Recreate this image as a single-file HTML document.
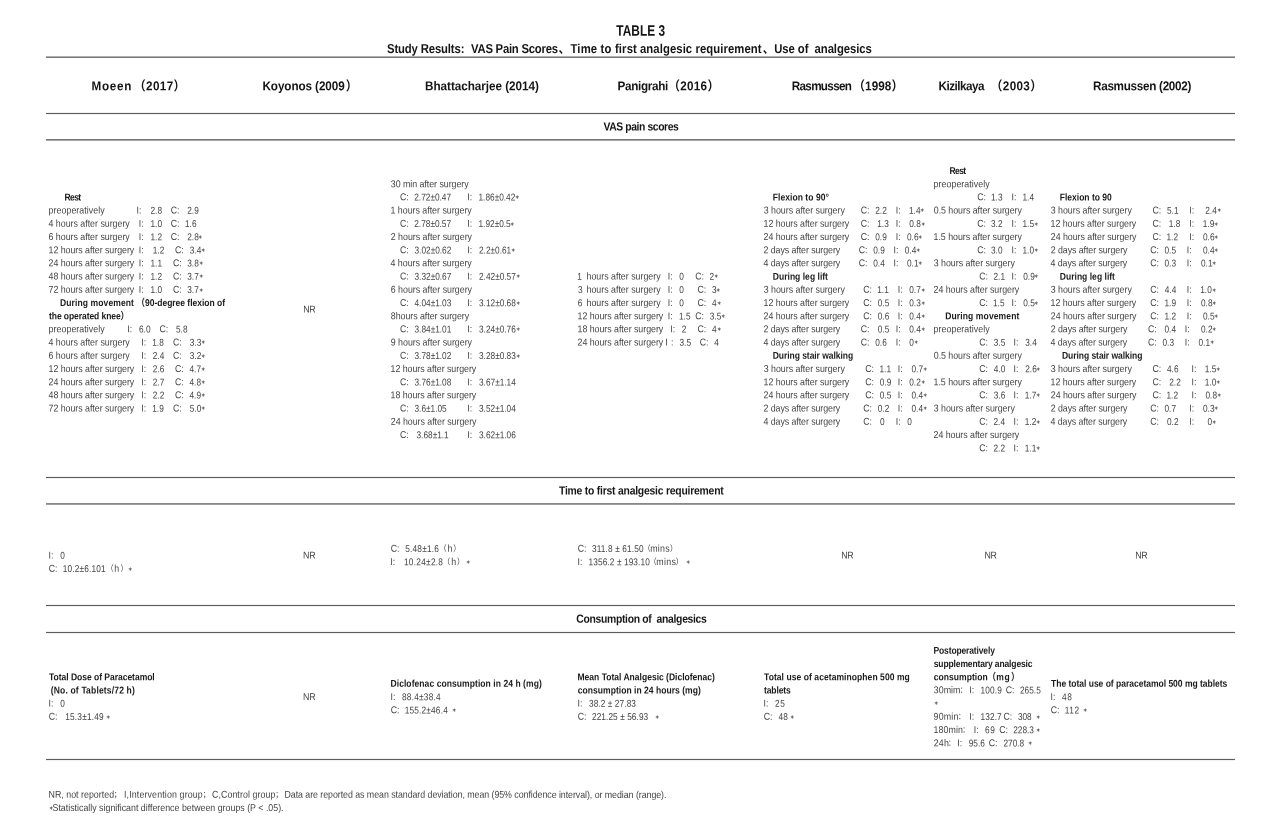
<!DOCTYPE html>
<html lang="en">
<head>
<meta charset="utf-8">
<title>TABLE 3</title>
<style>
html,body{margin:0;padding:0;background:#fff;}
body{width:1268px;height:824px;position:relative;overflow:hidden;font-family:"Liberation Sans","Noto Sans CJK SC",sans-serif;}
#pg{position:absolute;left:0;top:0;width:1268px;height:824px;}
.hl{position:absolute;left:46px;width:1189px;height:1px;}
.r,.rb,.hd,.sec,.sub,.ttl{position:absolute;left:0;width:1268px;height:16px;line-height:16px;white-space:pre;}
span,i{position:absolute;top:0;white-space:pre;line-height:16px;font-style:normal;}
.r{font-size:8.84px;color:#444;letter-spacing:-0.03px;}
.r span,.r i{transform:translate(var(--x,0px),var(--t,0px)) matrix(1,0.0005,0,1.1198,0,0);transform-origin:0 11.06px;}
.r .n{font-size:8.3px;letter-spacing:0.0px;transform:translate(var(--x,0px),calc(var(--t,0px) + 0.19px)) matrix(1,0.0005,0,1.1928,0,0);transform-origin:0 10.88px;}
.r .w{font-size:7.4px;transform:translate(var(--x,0px),calc(var(--t,0px) + 0.50px)) matrix(1,0.0005,0,1.1198,0,0);transform-origin:0 10.56px;}
.r i{color:#333;font-size:5.2px;letter-spacing:0;transform:translate(var(--x,0px),calc(var(--t,0px) + -0.04px)) matrix(1,0.0005,0,1.1198,0,0);transform-origin:0 9.80px;}
.rb{font-size:8.55px;font-weight:bold;color:#1a1a1a;}
.rb span,.rb i{transform:translate(var(--x,0px),var(--t,0px)) matrix(1,0.0005,0,1.1579,0,0);transform-origin:0 10.96px;}
.hd{font-size:11.72px;font-weight:bold;color:#151515;}
.hd span,.hd i{transform:translate(var(--x,0px),var(--t,0px)) matrix(1,0.0005,0,1.0922,0,0);transform-origin:0 12.06px;}
.sec{font-size:10.38px;font-weight:bold;color:#151515;}
.sec span,.sec i{transform:translate(var(--x,0px),var(--t,0px)) matrix(1,0.0005,0,1.1364,0,0);transform-origin:0 11.60px;}
.sub{font-size:11.31px;font-weight:bold;color:#151515;}
.sub span,.sub i{transform:translate(var(--x,0px),var(--t,0px)) matrix(1,0.0005,0,1.1403,0,0);transform-origin:0 11.92px;}
.ttl{font-size:11.9px;font-weight:bold;color:#151515;}
.ttl span,.ttl i{transform:translate(var(--x,0px),var(--t,0px)) matrix(1,0.0005,0,1.2853,0,0);transform-origin:0 12.12px;}
</style>
</head>
<body>
<div id="pg">
<div class="hl" style="top:56px;background:#b0b0b0"></div>
<div class="hl" style="top:57px;background:#7a7a7a"></div>
<div class="hl" style="top:139px;background:#787878"></div>
<div class="hl" style="top:140px;background:#a6a6a6"></div>
<div class="hl" style="top:503px;background:#888888"></div>
<div class="hl" style="top:504px;background:#9e9e9e"></div>
<div class="hl" style="top:112px;background:#f1f1f1"></div>
<div class="hl" style="top:113px;background:#5c5c5c"></div>
<div class="hl" style="top:114px;background:#f1f1f1"></div>
<div class="hl" style="top:476px;background:#f1f1f1"></div>
<div class="hl" style="top:477px;background:#5c5c5c"></div>
<div class="hl" style="top:478px;background:#f1f1f1"></div>
<div class="hl" style="top:604px;background:#f1f1f1"></div>
<div class="hl" style="top:605px;background:#5c5c5c"></div>
<div class="hl" style="top:606px;background:#f1f1f1"></div>
<div class="hl" style="top:631px;background:#f1f1f1"></div>
<div class="hl" style="top:632px;background:#5c5c5c"></div>
<div class="hl" style="top:633px;background:#f1f1f1"></div>
<div class="hl" style="top:758px;background:#f1f1f1"></div>
<div class="hl" style="top:759px;background:#5c5c5c"></div>
<div class="hl" style="top:760px;background:#f1f1f1"></div>
<div class="ttl" style="top:23px;--t:0.75px"><span style="left:616px;--x:0.25px;letter-spacing:0.03px">TABLE 3</span></div>
<div class="sub" style="top:41px"><span style="left:387px;letter-spacing:-0.13px">Study Results:</span><span style="left:471px;letter-spacing:-0.23px">VAS Pain Scores</span><span style="left:558px;--x:0.5px">、</span><span style="left:570px;--x:0.5px;letter-spacing:0.16px">Time to first</span><span style="left:640px;letter-spacing:0.08px">analgesic requirement</span><span style="left:762px;--x:0.75px">、</span><span style="left:774px;--x:0.25px;letter-spacing:-0.06px">Use of  analgesics</span></div>
<div class="hd" style="top:78px;--t:0.25px"><span style="left:91px;--x:0.5px;letter-spacing:0.68px">Moeen</span><span style="left:134px;letter-spacing:0.35px">（2017）</span><span style="left:262px;--x:0.5px;letter-spacing:-0.1px">Koyonos (2009</span><span style="left:345px;--x:0.75px">）</span><span style="left:425px;letter-spacing:-0.04px">Bhattacharjee (2014)</span><span style="left:617px;--x:0.5px;letter-spacing:-0.32px">Panigrahi</span><span style="left:668px;--x:0.25px;letter-spacing:0.27px">（2016）</span><span style="left:791px;--x:0.75px;letter-spacing:-0.7px">Rasmussen</span><span style="left:853px;--x:0.25px;letter-spacing:0.07px">（1998）</span><span style="left:938px;--x:0.5px;letter-spacing:-0.51px">Kizilkaya</span><span style="left:990px;--x:0.75px;letter-spacing:0.33px">（2003）</span><span style="left:1093px;letter-spacing:-0.3px">Rasmussen (2002)</span></div>
<div class="sec" style="top:119px;--t:0.5px"><span style="left:603px;--x:0.5px;letter-spacing:-0.41px">VAS pain scores</span></div>
<div class="rb" style="top:163px"><span style="left:949px;--x:0.5px;letter-spacing:-0.62px">Rest</span></div>
<div class="r" style="top:176px;--t:0.25px"><span style="left:390px;--x:0.75px">30 min after surgery</span><span style="left:933px;--x:0.5px;letter-spacing:0.06px">preoperatively</span></div>
<div class="rb" style="top:189px;--t:0.5px"><span style="left:64px;--x:0.5px;letter-spacing:-0.62px">Rest</span><span style="left:772px;--x:0.75px;letter-spacing:0.04px">Flexion to 90°</span><span style="left:1059px;--x:0.75px;letter-spacing:-0.02px">Flexion to 90</span></div>
<div class="r" style="top:189px;--t:0.25px"><span style="left:400px">C:</span><span class="n" style="left:414px;--x:0.25px">2.72±0.47</span><span style="left:467px;--x:0.25px">I:</span><span class="n" style="left:478px;--x:0.5px">1.86±0.42</span><i style="left:515px">∗</i><span style="left:977px;--x:0.25px">C:</span><span class="n" style="left:991px">1.3</span><span style="left:1011px;--x:0.5px">I:</span><span class="n" style="left:1022px;--x:0.5px">1.4</span></div>
<div class="r" style="top:202px;--t:0.5px"><span style="left:48px;--x:0.5px;letter-spacing:0.06px">preoperatively</span><span style="left:136px;--x:0.5px">I:</span><span class="n" style="left:150px;--x:0.5px">2.8</span><span style="left:170px;--x:0.75px">C:</span><span class="n" style="left:187px;--x:0.25px">2.9</span><span style="left:390px;--x:0.5px;letter-spacing:-0.01px">1 hours after surgery</span><span style="left:763px;--x:0.75px;letter-spacing:-0.02px">3 hours after surgery</span><span style="left:860px;--x:0.75px">C:</span><span class="n" style="left:875px;--x:0.25px">2.2</span><span style="left:895px;--x:0.75px">I:</span><span class="n" style="left:909px">1.4</span><i style="left:920px;--x:0.25px">∗</i><span style="left:933px;--x:0.75px;letter-spacing:-0.03px">0.5 hours after surgery</span><span style="left:1050px;--x:0.75px;letter-spacing:-0.02px">3 hours after surgery</span><span style="left:1152px;--x:0.5px">C:</span><span class="n" style="left:1167px">5.1</span><span style="left:1189px;--x:0.25px">I:</span><span class="n" style="left:1205px;--x:0.25px">2.4</span><i style="left:1216px;--x:0.5px">∗</i></div>
<div class="r" style="top:215px;--t:0.75px"><span style="left:48px;--x:0.5px;letter-spacing:-0.01px">4 hours after surgery</span><span style="left:138px;--x:0.75px">I:</span><span class="n" style="left:150px;--x:0.5px">1.0</span><span style="left:170px;--x:0.75px">C:</span><span class="n" style="left:185px">1.6</span><span style="left:400px">C:</span><span class="n" style="left:414px;--x:0.25px">2.78±0.57</span><span style="left:467px;--x:0.25px">I:</span><span class="n" style="left:478px;--x:0.5px">1.92±0.5</span><i style="left:510px;--x:0.25px">∗</i><span style="left:763px;--x:0.5px;letter-spacing:-0.03px">12 hours after surgery</span><span style="left:860px;--x:0.75px">C:</span><span class="n" style="left:877px;--x:0.25px">1.3</span><span style="left:895px;--x:0.75px">I:</span><span class="n" style="left:909px;--x:0.25px">0.8</span><i style="left:920px;--x:0.5px">∗</i><span style="left:977px;--x:0.25px">C:</span><span class="n" style="left:991px">3.2</span><span style="left:1011px;--x:0.5px">I:</span><span class="n" style="left:1022px;--x:0.5px">1.5</span><i style="left:1033px;--x:0.75px">∗</i><span style="left:1050px;--x:0.5px;letter-spacing:-0.03px">12 hours after surgery</span><span style="left:1152px;--x:0.5px">C:</span><span class="n" style="left:1168px;--x:0.75px">1.8</span><span style="left:1189px;--x:0.25px">I:</span><span class="n" style="left:1202px;--x:0.75px">1.9</span><i style="left:1213px;--x:0.75px">∗</i></div>
<div class="r" style="top:229px"><span style="left:48px;--x:0.5px;letter-spacing:-0.01px">6 hours after surgery</span><span style="left:138px;--x:0.75px">I:</span><span class="n" style="left:150px;--x:0.5px">1.2</span><span style="left:170px;--x:0.75px">C:</span><span class="n" style="left:187px;--x:0.25px">2.8</span><i style="left:198px;--x:0.25px">∗</i><span style="left:390px;--x:0.75px;letter-spacing:-0.01px">2 hours after surgery</span><span style="left:763px;--x:0.5px">24 hours after surgery</span><span style="left:860px;--x:0.75px">C:</span><span class="n" style="left:875px;--x:0.25px">0.9</span><span style="left:895px;--x:0.75px">I:</span><span class="n" style="left:907px">0.6</span><i style="left:918px;--x:0.25px">∗</i><span style="left:933px;--x:0.5px;letter-spacing:-0.02px">1.5 hours after surgery</span><span style="left:1050px;--x:0.75px">24 hours after surgery</span><span style="left:1152px;--x:0.5px">C:</span><span class="n" style="left:1166px;--x:0.5px">1.2</span><span style="left:1189px;--x:0.25px">I:</span><span class="n" style="left:1203px">0.6</span><i style="left:1214px">∗</i></div>
<div class="r" style="top:242px;--t:0.25px"><span style="left:48px;--x:0.5px;letter-spacing:-0.03px">12 hours after surgery</span><span style="left:138px;--x:0.75px">I:</span><span class="n" style="left:152px;--x:0.75px">1.2</span><span style="left:175px">C:</span><span class="n" style="left:189px;--x:0.75px">3.4</span><i style="left:201px">∗</i><span style="left:400px">C:</span><span class="n" style="left:414px;--x:0.5px">3.02±0.62</span><span style="left:467px;--x:0.25px">I:</span><span class="n" style="left:479px">2.2±0.61</span><i style="left:510px;--x:0.75px">∗</i><span style="left:763px;--x:0.5px;letter-spacing:-0.07px">2 days after surgery</span><span style="left:858px;--x:0.75px">C:</span><span class="n" style="left:873px;--x:0.25px">0.9</span><span style="left:893px;--x:0.5px">I:</span><span class="n" style="left:904px;--x:0.75px">0.4</span><i style="left:916px">∗</i><span style="left:977px;--x:0.25px">C:</span><span class="n" style="left:991px">3.0</span><span style="left:1011px;--x:0.5px">I:</span><span class="n" style="left:1022px;--x:0.5px">1.0</span><i style="left:1033px;--x:0.75px">∗</i><span style="left:1050px;--x:0.75px;letter-spacing:-0.07px">2 days after surgery</span><span style="left:1150px;--x:0.25px">C:</span><span class="n" style="left:1164px;--x:0.5px">0.5</span><span style="left:1186px;--x:0.75px">I:</span><span class="n" style="left:1203px">0.4</span><i style="left:1214px;--x:0.25px">∗</i></div>
<div class="r" style="top:255px;--t:0.25px"><span style="left:48px;--x:0.5px">24 hours after surgery</span><span style="left:138px;--x:0.75px">I:</span><span class="n" style="left:150px;--x:0.5px">1.1</span><span style="left:173px">C:</span><span class="n" style="left:187px;--x:0.25px">3.8</span><i style="left:198px;--x:0.5px">∗</i><span style="left:390px;--x:0.5px;letter-spacing:-0.01px">4 hours after surgery</span><span style="left:763px;--x:0.5px;letter-spacing:-0.07px">4 days after surgery</span><span style="left:858px;--x:0.75px">C:</span><span class="n" style="left:873px;--x:0.25px">0.4</span><span style="left:893px;--x:0.5px">I:</span><span class="n" style="left:907px">0.1</span><i style="left:918px;--x:0.25px">∗</i><span style="left:933px;--x:0.75px;letter-spacing:-0.02px">3 hours after surgery</span><span style="left:1050px;--x:0.5px;letter-spacing:-0.07px">4 days after surgery</span><span style="left:1150px;--x:0.25px">C:</span><span class="n" style="left:1164px;--x:0.5px">0.3</span><span style="left:1186px;--x:0.75px">I:</span><span class="n" style="left:1201px">0.1</span><i style="left:1212px">∗</i></div>
<div class="r" style="top:268px;--t:0.5px"><span style="left:48px;--x:0.5px;letter-spacing:-0.03px">48 hours after surgery</span><span style="left:138px;--x:0.75px">I:</span><span class="n" style="left:150px;--x:0.5px">1.2</span><span style="left:173px">C:</span><span class="n" style="left:187px;--x:0.25px">3.7</span><i style="left:198px;--x:0.5px">∗</i><span style="left:400px">C:</span><span class="n" style="left:414px;--x:0.5px">3.32±0.67</span><span style="left:467px;--x:0.25px">I:</span><span class="n" style="left:479px">2.42±0.57</span><i style="left:515px;--x:0.5px">∗</i><span class="n" style="left:577px;--x:0.25px">1</span><span style="left:586px;--x:0.5px;letter-spacing:0px">hours after surgery</span><span style="left:667px;--x:0.75px">I:</span><span class="n" style="left:679px;--x:0.25px">0</span><span style="left:695px;--x:0.25px">C:</span><span class="n" style="left:709px;--x:0.5px">2</span><i style="left:713px;--x:0.75px">∗</i><span style="left:979px;--x:0.25px">C:</span><span class="n" style="left:993px;--x:0.5px">2.1</span><span style="left:1011px;--x:0.5px">I:</span><span class="n" style="left:1023px;--x:0.25px">0.9</span><i style="left:1034px;--x:0.25px">∗</i></div>
<div class="rb" style="top:268px;--t:0.75px"><span style="left:772px;--x:0.75px;letter-spacing:0.01px">During leg lift</span><span style="left:1059px;--x:0.75px;letter-spacing:0.01px">During leg lift</span></div>
<div class="r" style="top:281px;--t:0.75px"><span style="left:48px;--x:0.5px">72 hours after surgery</span><span style="left:138px;--x:0.75px">I:</span><span class="n" style="left:150px;--x:0.5px">1.0</span><span style="left:173px">C:</span><span class="n" style="left:187px;--x:0.25px">3.7</span><i style="left:198px;--x:0.5px">∗</i><span style="left:390px;--x:0.75px;letter-spacing:-0.01px">6 hours after surgery</span><span class="n" style="left:578px">3</span><span style="left:586px;--x:0.5px;letter-spacing:0px">hours after surgery</span><span style="left:667px;--x:0.75px">I:</span><span class="n" style="left:679px;--x:0.25px">0</span><span style="left:697px;--x:0.5px">C:</span><span class="n" style="left:712px">3</span><i style="left:716px;--x:0.25px">∗</i><span style="left:763px;--x:0.75px;letter-spacing:-0.02px">3 hours after surgery</span><span style="left:863px;--x:0.25px">C:</span><span class="n" style="left:877px;--x:0.25px">1.1</span><span style="left:897px;--x:0.75px">I:</span><span class="n" style="left:909px;--x:0.25px">0.7</span><i style="left:920px;--x:0.5px">∗</i><span style="left:933px;--x:0.5px">24 hours after surgery</span><span style="left:1050px;--x:0.75px;letter-spacing:-0.02px">3 hours after surgery</span><span style="left:1150px;--x:0.25px">C:</span><span class="n" style="left:1164px;--x:0.75px">4.4</span><span style="left:1186px;--x:0.75px">I:</span><span class="n" style="left:1200px;--x:0.25px">1.0</span><i style="left:1211px;--x:0.5px">∗</i></div>
<div class="rb" style="top:295px"><span style="left:60px;letter-spacing:0.09px">During movement</span><span style="left:136px;--x:0.5px;letter-spacing:-0.04px">（90-degree flexion of</span></div>
<div class="r" style="top:295px"><span style="left:400px">C:</span><span class="n" style="left:414px;--x:0.5px">4.04±1.03</span><span style="left:467px;--x:0.25px">I:</span><span class="n" style="left:479px">3.12±0.68</span><i style="left:515px;--x:0.5px">∗</i><span class="n" style="left:577px;--x:0.75px">6</span><span style="left:586px;--x:0.5px;letter-spacing:0px">hours after surgery</span><span style="left:667px;--x:0.75px">I:</span><span class="n" style="left:679px;--x:0.25px">0</span><span style="left:697px;--x:0.5px">C:</span><span class="n" style="left:712px">4</span><i style="left:716px;--x:0.5px">∗</i><span style="left:763px;--x:0.5px;letter-spacing:-0.03px">12 hours after surgery</span><span style="left:863px;--x:0.25px">C:</span><span class="n" style="left:877px;--x:0.75px">0.5</span><span style="left:897px;--x:0.75px">I:</span><span class="n" style="left:909px;--x:0.25px">0.3</span><i style="left:920px;--x:0.5px">∗</i><span style="left:979px;--x:0.25px">C:</span><span class="n" style="left:993px">1.5</span><span style="left:1011px;--x:0.5px">I:</span><span class="n" style="left:1023px;--x:0.25px">0.5</span><i style="left:1034px;--x:0.25px">∗</i><span style="left:1050px;--x:0.5px;letter-spacing:-0.03px">12 hours after surgery</span><span style="left:1150px;--x:0.25px">C:</span><span class="n" style="left:1164px;--x:0.5px">1.9</span><span style="left:1186px;--x:0.75px">I:</span><span class="n" style="left:1201px">0.8</span><i style="left:1212px">∗</i></div>
<div class="r" style="top:301px;--t:0.5px"><span style="left:303px;--x:0.25px;letter-spacing:-0.37px">NR</span></div>
<div class="rb" style="top:308px;--t:0.25px"><span style="left:49px;letter-spacing:-0.09px">the operated knee）</span><span style="left:945px;--x:0.25px;letter-spacing:0.1px">During movement</span></div>
<div class="r" style="top:308px;--t:0.25px"><span style="left:390px;--x:0.75px">8hours after surgery</span><span style="left:577px;--x:0.5px;letter-spacing:-0.03px">12 hours after surgery</span><span style="left:667px;--x:0.75px">I:</span><span class="n" style="left:679px">1.5</span><span style="left:695px;--x:0.25px">C:</span><span class="n" style="left:709px;--x:0.75px">3.5</span><i style="left:720px;--x:0.75px">∗</i><span style="left:763px;--x:0.5px">24 hours after surgery</span><span style="left:863px;--x:0.25px">C:</span><span class="n" style="left:877px;--x:0.75px">0.6</span><span style="left:897px;--x:0.75px">I:</span><span class="n" style="left:909px;--x:0.25px">0.4</span><i style="left:920px;--x:0.5px">∗</i><span style="left:1050px;--x:0.75px">24 hours after surgery</span><span style="left:1150px;--x:0.25px">C:</span><span class="n" style="left:1164px;--x:0.5px">1.2</span><span style="left:1186px;--x:0.75px">I:</span><span class="n" style="left:1203px">0.5</span><i style="left:1214px">∗</i></div>
<div class="r" style="top:321px;--t:0.25px"><span style="left:48px;--x:0.5px;letter-spacing:0.06px">preoperatively</span><span style="left:127px;--x:0.25px">I:</span><span class="n" style="left:139px">6.0</span><span style="left:159px;--x:0.5px">C:</span><span class="n" style="left:176px">5.8</span><span style="left:400px">C:</span><span class="n" style="left:414px;--x:0.5px">3.84±1.01</span><span style="left:467px;--x:0.25px">I:</span><span class="n" style="left:479px">3.24±0.76</span><i style="left:515px;--x:0.5px">∗</i><span style="left:577px;--x:0.5px;letter-spacing:-0.03px">18 hours after surgery</span><span style="left:670px;--x:0.25px">I:</span><span class="n" style="left:681px;--x:0.75px">2</span><span style="left:697px;--x:0.5px">C:</span><span class="n" style="left:712px">4</span><i style="left:716px;--x:0.5px">∗</i><span style="left:763px;--x:0.5px;letter-spacing:-0.07px">2 days after surgery</span><span style="left:860px;--x:0.75px">C:</span><span class="n" style="left:877px;--x:0.75px">0.5</span><span style="left:895px;--x:0.75px">I:</span><span class="n" style="left:909px;--x:0.25px">0.4</span><i style="left:920px;--x:0.5px">∗</i><span style="left:933px;--x:0.5px;letter-spacing:0.06px">preoperatively</span><span style="left:1050px;--x:0.75px;letter-spacing:-0.07px">2 days after surgery</span><span style="left:1148px">C:</span><span class="n" style="left:1164px;--x:0.5px">0.4</span><span style="left:1184px;--x:0.75px">I:</span><span class="n" style="left:1201px">0.2</span><i style="left:1212px">∗</i></div>
<div class="r" style="top:334px;--t:0.5px"><span style="left:48px;--x:0.5px;letter-spacing:-0.01px">4 hours after surgery</span><span style="left:141px;--x:0.25px">I:</span><span class="n" style="left:152px;--x:0.25px">1.8</span><span style="left:173px">C:</span><span class="n" style="left:189px;--x:0.75px">3.3</span><i style="left:201px">∗</i><span style="left:390px;--x:0.75px;letter-spacing:-0.01px">9 hours after surgery</span><span style="left:577px;--x:0.5px">24 hours after surgery</span><span style="left:665px;--x:0.25px">I</span><span style="left:671px">:</span><span class="n" style="left:679px;--x:0.5px">3.5</span><span style="left:699px;--x:0.75px">C:</span><span class="n" style="left:714px;--x:0.25px">4</span><span style="left:763px;--x:0.5px;letter-spacing:-0.07px">4 days after surgery</span><span style="left:860px;--x:0.75px">C:</span><span class="n" style="left:875px;--x:0.25px">0.6</span><span style="left:895px;--x:0.75px">I:</span><span class="n" style="left:909px;--x:0.25px">0</span><i style="left:913px;--x:0.75px">∗</i><span style="left:979px;--x:0.25px">C:</span><span class="n" style="left:993px;--x:0.75px">3.5</span><span style="left:1013px;--x:0.5px">I:</span><span class="n" style="left:1025px;--x:0.25px">3.4</span><span style="left:1050px;--x:0.5px;letter-spacing:-0.07px">4 days after surgery</span><span style="left:1148px">C:</span><span class="n" style="left:1162px;--x:0.5px">0.3</span><span style="left:1184px;--x:0.75px">I:</span><span class="n" style="left:1198px;--x:0.5px">0.1</span><i style="left:1209px;--x:0.75px">∗</i></div>
<div class="r" style="top:347px;--t:0.75px"><span style="left:48px;--x:0.5px;letter-spacing:-0.01px">6 hours after surgery</span><span style="left:141px;--x:0.25px">I:</span><span class="n" style="left:152px;--x:0.75px">2.4</span><span style="left:173px">C:</span><span class="n" style="left:189px;--x:0.75px">3.2</span><i style="left:201px">∗</i><span style="left:400px">C:</span><span class="n" style="left:414px;--x:0.5px">3.78±1.02</span><span style="left:467px;--x:0.25px">I:</span><span class="n" style="left:479px">3.28±0.83</span><i style="left:515px;--x:0.5px">∗</i><span style="left:933px;--x:0.75px;letter-spacing:-0.03px">0.5 hours after surgery</span></div>
<div class="rb" style="top:347px;--t:0.75px"><span style="left:772px;--x:0.75px;letter-spacing:-0.07px">During stair walking</span><span style="left:1062px;letter-spacing:-0.07px">During stair walking</span></div>
<div class="r" style="top:361px"><span style="left:48px;--x:0.5px;letter-spacing:-0.03px">12 hours after surgery</span><span style="left:141px;--x:0.25px">I:</span><span class="n" style="left:152px;--x:0.75px">2.6</span><span style="left:175px">C:</span><span class="n" style="left:189px;--x:0.5px">4.7</span><i style="left:200px;--x:0.75px">∗</i><span style="left:390px;--x:0.5px;letter-spacing:-0.03px">12 hours after surgery</span><span style="left:763px;--x:0.75px;letter-spacing:-0.02px">3 hours after surgery</span><span style="left:865px;--x:0.25px">C:</span><span class="n" style="left:879px;--x:0.5px">1.1</span><span style="left:897px;--x:0.75px">I:</span><span class="n" style="left:911px;--x:0.5px">0.7</span><i style="left:922px;--x:0.5px">∗</i><span style="left:979px;--x:0.25px">C:</span><span class="n" style="left:993px;--x:0.75px">4.0</span><span style="left:1013px;--x:0.5px">I:</span><span class="n" style="left:1025px;--x:0.25px">2.6</span><i style="left:1036px;--x:0.25px">∗</i><span style="left:1050px;--x:0.75px;letter-spacing:-0.02px">3 hours after surgery</span><span style="left:1152px;--x:0.5px">C:</span><span class="n" style="left:1167px">4.6</span><span style="left:1191px;--x:0.5px">I:</span><span class="n" style="left:1204px;--x:0.75px">1.5</span><i style="left:1216px">∗</i></div>
<div class="r" style="top:374px;--t:0.25px"><span style="left:48px;--x:0.5px">24 hours after surgery</span><span style="left:141px;--x:0.25px">I:</span><span class="n" style="left:152px;--x:0.75px">2.7</span><span style="left:175px">C:</span><span class="n" style="left:189px;--x:0.5px">4.8</span><i style="left:200px;--x:0.75px">∗</i><span style="left:400px">C:</span><span class="n" style="left:414px;--x:0.5px">3.76±1.08</span><span style="left:467px;--x:0.25px">I:</span><span class="n" style="left:479px">3.67±1.14</span><span style="left:763px;--x:0.5px;letter-spacing:-0.03px">12 hours after surgery</span><span style="left:865px;--x:0.25px">C:</span><span class="n" style="left:879px;--x:0.75px">0.9</span><span style="left:897px;--x:0.75px">I:</span><span class="n" style="left:909px;--x:0.25px">0.2</span><i style="left:920px;--x:0.5px">∗</i><span style="left:933px;--x:0.5px;letter-spacing:-0.02px">1.5 hours after surgery</span><span style="left:1050px;--x:0.5px;letter-spacing:-0.03px">12 hours after surgery</span><span style="left:1152px;--x:0.5px">C:</span><span class="n" style="left:1169px;--x:0.25px">2.2</span><span style="left:1191px;--x:0.5px">I:</span><span class="n" style="left:1204px;--x:0.75px">1.0</span><i style="left:1216px">∗</i></div>
<div class="r" style="top:387px;--t:0.25px"><span style="left:48px;--x:0.5px;letter-spacing:-0.03px">48 hours after surgery</span><span style="left:141px;--x:0.25px">I:</span><span class="n" style="left:152px;--x:0.75px">2.2</span><span style="left:175px">C:</span><span class="n" style="left:189px;--x:0.5px">4.9</span><i style="left:200px;--x:0.75px">∗</i><span style="left:390px;--x:0.5px;letter-spacing:-0.03px">18 hours after surgery</span><span style="left:763px;--x:0.5px">24 hours after surgery</span><span style="left:865px;--x:0.25px">C:</span><span class="n" style="left:879px;--x:0.75px">0.5</span><span style="left:897px;--x:0.75px">I:</span><span class="n" style="left:911px;--x:0.5px">0.4</span><i style="left:922px;--x:0.75px">∗</i><span style="left:979px;--x:0.25px">C:</span><span class="n" style="left:993px;--x:0.75px">3.6</span><span style="left:1013px;--x:0.5px">I:</span><span class="n" style="left:1024px;--x:0.75px">1.7</span><i style="left:1035px;--x:0.75px">∗</i><span style="left:1050px;--x:0.75px">24 hours after surgery</span><span style="left:1152px;--x:0.5px">C:</span><span class="n" style="left:1166px;--x:0.5px">1.2</span><span style="left:1191px;--x:0.5px">I:</span><span class="n" style="left:1205px;--x:0.5px">0.8</span><i style="left:1216px;--x:0.5px">∗</i></div>
<div class="r" style="top:400px;--t:0.5px"><span style="left:48px;--x:0.5px">72 hours after surgery</span><span style="left:141px;--x:0.25px">I:</span><span class="n" style="left:152px;--x:0.25px">1.9</span><span style="left:173px">C:</span><span class="n" style="left:189px;--x:0.75px">5.0</span><i style="left:201px">∗</i><span style="left:400px">C:</span><span class="n" style="left:414px;--x:0.5px">3.6±1.05</span><span style="left:467px;--x:0.25px">I:</span><span class="n" style="left:479px">3.52±1.04</span><span style="left:763px;--x:0.5px;letter-spacing:-0.07px">2 days after surgery</span><span style="left:863px;--x:0.25px">C:</span><span class="n" style="left:877px;--x:0.75px">0.2</span><span style="left:897px;--x:0.75px">I:</span><span class="n" style="left:911px;--x:0.5px">0.4</span><i style="left:922px;--x:0.75px">∗</i><span style="left:933px;--x:0.75px;letter-spacing:-0.02px">3 hours after surgery</span><span style="left:1050px;--x:0.75px;letter-spacing:-0.07px">2 days after surgery</span><span style="left:1150px;--x:0.25px">C:</span><span class="n" style="left:1164px;--x:0.5px">0.7</span><span style="left:1189px;--x:0.25px">I:</span><span class="n" style="left:1203px">0.3</span><i style="left:1214px">∗</i></div>
<div class="r" style="top:413px;--t:0.75px"><span style="left:390px;--x:0.75px">24 hours after surgery</span><span style="left:763px;--x:0.5px;letter-spacing:-0.07px">4 days after surgery</span><span style="left:863px;--x:0.25px">C:</span><span class="n" style="left:880px">0</span><span style="left:895px;--x:0.75px">I:</span><span class="n" style="left:907px;--x:0.25px">0</span><span style="left:979px;--x:0.25px">C:</span><span class="n" style="left:993px;--x:0.5px">2.4</span><span style="left:1013px;--x:0.5px">I:</span><span class="n" style="left:1024px;--x:0.75px">1.2</span><i style="left:1035px;--x:0.75px">∗</i><span style="left:1050px;--x:0.5px;letter-spacing:-0.07px">4 days after surgery</span><span style="left:1150px;--x:0.25px">C:</span><span class="n" style="left:1167px">0.2</span><span style="left:1189px;--x:0.25px">I:</span><span class="n" style="left:1207px;--x:0.5px">0</span><i style="left:1212px">∗</i></div>
<div class="r" style="top:427px"><span style="left:400px">C:</span><span class="n" style="left:416px;--x:0.5px">3.68±1.1</span><span style="left:467px;--x:0.25px">I:</span><span class="n" style="left:479px">3.62±1.06</span><span style="left:933px;--x:0.5px">24 hours after surgery</span></div>
<div class="r" style="top:440px;--t:0.25px"><span style="left:979px;--x:0.25px">C:</span><span class="n" style="left:993px;--x:0.5px">2.2</span><span style="left:1013px;--x:0.5px">I:</span><span class="n" style="left:1024px;--x:0.75px">1.1</span><i style="left:1035px;--x:0.75px">∗</i></div>
<div class="sec" style="top:483px;--t:0.5px"><span style="left:559px;letter-spacing:-0.22px">Time to first analgesic requirement</span></div>
<div class="r" style="top:540px;--t:0.75px"><span style="left:390px;--x:0.75px">C:</span><span class="n" style="left:405px;--x:0.25px;letter-spacing:0.19px">5.48±1.6</span><span class="w" style="left:439px;--x:0.25px">（</span><span style="left:447px;--x:0.5px">h</span><span class="w" style="left:453px;--x:0.25px">）</span><span style="left:577px;--x:0.75px">C:</span><span class="n" style="left:592px;letter-spacing:0.13px">311.8 ± 61.50</span><span class="w" style="left:643px;--x:0.25px">（</span><span style="left:650px;--x:0.25px;letter-spacing:0.25px">mins</span><span class="w" style="left:670px">）</span></div>
<div class="r" style="top:547px;--t:0.5px"><span style="left:48px;--x:0.5px">I:</span><span class="n" style="left:60px;--x:0.25px">0</span><span style="left:303px;letter-spacing:-0.07px">NR</span><span style="left:841px;--x:0.25px;letter-spacing:-0.47px">NR</span><span style="left:984px;--x:0.5px;letter-spacing:-0.47px">NR</span><span style="left:1135px;--x:0.25px;letter-spacing:-0.37px">NR</span></div>
<div class="r" style="top:554px"><span style="left:390px;--x:0.25px">I:</span><span class="n" style="left:404px;letter-spacing:0.26px">10.24±2.8</span><span class="w" style="left:442px;--x:0.75px">（</span><span style="left:451px;--x:0.25px">h</span><span class="w" style="left:457px">）</span><i style="left:465px;--x:0.5px">∗</i><span style="left:577px;--x:0.5px">I:</span><span class="n" style="left:588px;--x:0.5px;letter-spacing:0.1px">1356.2 ± 193.10</span><span class="w" style="left:649px;--x:0.25px">（</span><span style="left:656px;--x:0.25px;letter-spacing:0.32px">mins</span><span class="w" style="left:675px;--x:0.75px">）</span><i style="left:685px;--x:0.5px">∗</i></div>
<div class="r" style="top:560px;--t:0.75px"><span style="left:48px;--x:0.75px">C:</span><span class="n" style="left:62px;--x:0.75px;letter-spacing:0.15px">10.2±6.101</span><span class="w" style="left:106px;--x:0.25px">（</span><span style="left:114px;--x:0.25px">h</span><span class="w" style="left:120px;--x:0.5px">）</span><i style="left:128px;--x:0.25px">∗</i></div>
<div class="sec" style="top:611px;--t:0.75px"><span style="left:576px;--x:0.25px;letter-spacing:-0.31px">Consumption of  analgesics</span></div>
<div class="rb" style="top:642px;--t:0.75px"><span style="left:933px;--x:0.5px;letter-spacing:-0.16px">Postoperatively</span></div>
<div class="rb" style="top:656px"><span style="left:933px;--x:0.75px;letter-spacing:-0.15px">supplementary analgesic</span></div>
<div class="rb" style="top:669px;--t:0.25px"><span style="left:49px;letter-spacing:-0.04px">Total Dose of Paracetamol</span><span style="left:577px;--x:0.5px;letter-spacing:-0.01px">Mean Total Analgesic (Diclofenac)</span><span style="left:764px;letter-spacing:0.05px">Total use of acetaminophen 500 mg</span><span style="left:933px;--x:0.75px;letter-spacing:0.02px">consumption</span><span style="left:987px;--x:0.5px">（</span><span style="left:996px;--x:0.25px;letter-spacing:0.56px">mg</span><span style="left:1011px">）</span></div>
<div class="rb" style="top:675px;--t:0.75px"><span style="left:390px;--x:0.5px;letter-spacing:0.05px">Diclofenac consumption in 24 h (mg)</span><span style="left:1051px;letter-spacing:-0.03px">The total use of paracetamol 500 mg tablets</span></div>
<div class="rb" style="top:682px;--t:0.5px"><span style="left:50px;--x:0.75px;letter-spacing:0.15px">(No. of Tablets/72 h)</span><span style="left:577px;--x:0.75px;letter-spacing:0.02px">consumption in 24 hours (mg)</span><span style="left:764px;letter-spacing:-0.12px">tablets</span></div>
<div class="r" style="top:682px;--t:0.25px"><span style="left:933px;--x:0.75px;letter-spacing:0.05px">30mim</span><span class="w" style="left:959px;--x:0.75px">：</span><span style="left:969px;--x:0.25px">I:</span><span class="n" style="left:980px;--x:0.5px;letter-spacing:0.15px">100.9</span><span style="left:1005px;--x:0.75px">C:</span><span class="n" style="left:1020px;letter-spacing:0.01px">265.5</span></div>
<div class="r" style="top:689px"><span style="left:303px;letter-spacing:-0.07px">NR</span><span style="left:390px;--x:0.5px">I:</span><span class="n" style="left:402px;letter-spacing:0.23px">88.4±38.4</span><span style="left:1050px;--x:0.5px">I:</span><span class="n" style="left:1062px;letter-spacing:0.73px">48</span></div>
<div class="r" style="top:695px;--t:0.5px"><span style="left:48px;--x:0.5px">I:</span><span class="n" style="left:60px;--x:0.25px">0</span><span style="left:577px;--x:0.5px">I:</span><span class="n" style="left:589px;letter-spacing:0.08px">38.2 ± 27.83</span><span style="left:763px;--x:0.5px">I:</span><span class="n" style="left:775px;letter-spacing:0.59px">25</span><i style="left:933px;--x:0.75px">∗</i></div>
<div class="r" style="top:702px;--t:0.25px"><span style="left:390px;--x:0.75px">C:</span><span class="n" style="left:404px;--x:0.75px;letter-spacing:0.17px">155.2±46.4</span><i style="left:451px;--x:0.5px">∗</i><span style="left:1050px;--x:0.75px">C:</span><span class="n" style="left:1064px;--x:0.75px;letter-spacing:0.51px">112</span><i style="left:1082px;--x:0.75px">∗</i></div>
<div class="r" style="top:708px;--t:0.75px"><span style="left:48px;--x:0.75px">C:</span><span class="n" style="left:65px;--x:0.25px;letter-spacing:0.19px">15.3±1.49</span><i style="left:105px;--x:0.5px">∗</i><span style="left:577px;--x:0.75px">C:</span><span class="n" style="left:592px;letter-spacing:0.07px">221.25 ± 56.93</span><i style="left:654px;--x:0.5px">∗</i><span style="left:763px;--x:0.75px">C:</span><span class="n" style="left:778px;--x:0.5px;letter-spacing:0.23px">48</span><i style="left:789px;--x:0.5px">∗</i><span style="left:933px;--x:0.5px;letter-spacing:0.23px">90min</span><span class="w" style="left:958px">：</span><span style="left:969px;--x:0.25px">I:</span><span class="n" style="left:980px;--x:0.5px;letter-spacing:0.1px">132.7</span><span style="left:1003px;--x:0.5px">C:</span><span class="n" style="left:1018px;letter-spacing:-0.13px">308</span><i style="left:1035px;--x:0.5px">∗</i></div>
<div class="r" style="top:722px"><span style="left:933px;--x:0.5px;letter-spacing:0.09px">180min</span><span class="w" style="left:962px;--x:0.25px">：</span><span style="left:973px;--x:0.75px">I:</span><span class="n" style="left:985px;letter-spacing:0.69px">69</span><span style="left:999px;--x:0.25px">C:</span><span class="n" style="left:1013px;--x:0.25px;letter-spacing:-0.01px">228.3</span><i style="left:1035px;--x:0.5px">∗</i></div>
<div class="r" style="top:735px;--t:0.25px"><span style="left:933px;--x:0.75px;letter-spacing:0.18px">24h</span><span class="w" style="left:948px">：</span><span style="left:957px;--x:0.25px">I:</span><span class="n" style="left:968px;--x:0.75px;letter-spacing:-0.04px">95.6</span><span style="left:988px;--x:0.75px">C:</span><span class="n" style="left:1003px;--x:0.5px;letter-spacing:-0.01px">270.8</span><i style="left:1028px">∗</i></div>
<div class="r" style="top:786px;--t:0.75px"><span style="left:48px;--x:0.5px;letter-spacing:0.02px">NR, not reported</span><span class="w" style="left:113px;--x:0.75px">；</span><span style="left:124px;letter-spacing:0.14px">I,Intervention group</span><span class="w" style="left:202px;--x:0.75px">；</span><span style="left:212px;letter-spacing:0.07px">C,Control group</span><span class="w" style="left:275px;--x:0.25px">；</span><span style="left:284px;--x:0.5px;letter-spacing:-0.05px">Data are reported as mean standard deviation, mean (95% confidence interval), or median (range).</span></div>
<div class="r" style="top:800px"><i style="left:48px;--x:0.5px">∗</i><span style="left:52px;--x:0.5px;letter-spacing:0px">Statistically significant difference between groups (P &lt; .05).</span></div>
</div>
</body>
</html>
